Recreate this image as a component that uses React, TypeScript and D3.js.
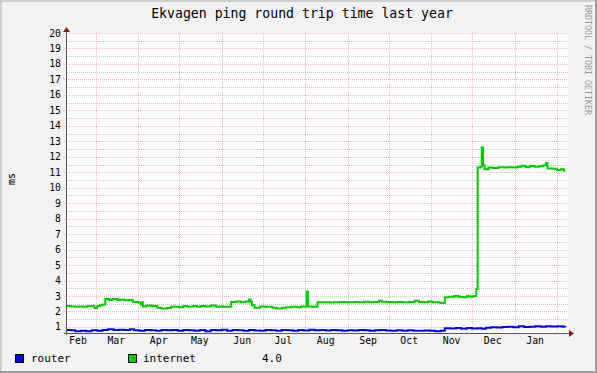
import React from 'react';
import * as d3 from 'd3';

// rrdtool-style yearly ping graph
const startDate = new Date(2010, 1, 8);
const endDate = new Date(2011, 1, 9);

const yTicks = d3.range(1, 21);
const yMinor = d3.range(1.5, 20, 1);

const internetDay = [
  0, 3, 6, 9, 12, 15, 20, 22, 24, 26, 28, 31, 33, 37, 39, 42, 45, 48, 52, 54, 55, 55.4, 58, 62, 66, 69,
  73, 76, 79, 82, 85, 88, 92, 95, 98, 101, 105, 109, 112, 114, 120, 124, 127, 130, 133, 134, 135, 137,
  141, 145, 150, 153, 157, 160, 164, 168, 171, 174, 175, 176, 179, 183, 188, 192, 195, 199, 203, 206,
  210, 213, 217, 221, 224, 228, 230, 234, 238, 241, 245, 250, 254, 257, 261, 264, 267, 271, 273, 276,
  279, 283, 286, 289, 292, 295, 297, 299, 300, 302, 303, 304, 305, 308, 311, 315, 319, 322, 326, 329,
  332, 335, 338, 342, 345, 348, 350, 351, 355, 358, 361, 363, 364,
];
const internetMs = [
  2.35, 2.33, 2.3, 2.33, 2.3, 2.35, 2.22, 2.35, 2.4, 2.45, 2.8, 2.75, 2.8, 2.75, 2.78, 2.73, 2.75, 2.62,
  2.58, 2.45, 2.6, 2.32, 2.38, 2.35, 2.25, 2.2, 2.22, 2.3, 2.3, 2.28, 2.35, 2.3, 2.35, 2.3, 2.35, 2.33,
  2.38, 2.3, 2.33, 2.3, 2.62, 2.65, 2.6, 2.65, 2.78, 2.65, 2.4, 2.25, 2.32, 2.3, 2.25, 2.2, 2.25, 2.28,
  2.3, 2.28, 2.33, 2.3, 3.3, 2.32, 2.3, 2.6, 2.6, 2.58, 2.6, 2.62, 2.6, 2.6, 2.62, 2.6, 2.63, 2.6, 2.62,
  2.7, 2.63, 2.62, 2.6, 2.62, 2.6, 2.62, 2.7, 2.62, 2.6, 2.65, 2.6, 2.58, 2.55, 2.92, 2.95, 3.0, 2.95,
  2.92, 2.98, 2.95, 3.0, 3.45, 11.3, 11.35, 12.6, 11.45, 11.2, 11.3, 11.28, 11.32, 11.3, 11.33, 11.3,
  11.35, 11.42, 11.32, 11.4, 11.35, 11.4, 11.45, 11.6, 11.25, 11.22, 11.15, 11.2, 11.1, 11.1,
];

const routerDay = [
  0, 3, 6, 10, 14, 18, 22, 26, 30, 34, 38, 42, 46, 49, 53, 57, 61, 65, 69, 73, 77, 81, 85, 89, 93, 97,
  101, 105, 109, 113, 117, 121, 125, 129, 133, 137, 141, 145, 149, 153, 157, 161, 165, 169, 173, 177,
  181, 185, 189, 193, 197, 201, 205, 209, 213, 217, 221, 225, 229, 233, 237, 241, 245, 249, 253, 257,
  261, 265, 269, 273, 276, 280, 284, 288, 292, 296, 300, 303, 306, 310, 314, 318, 322, 326, 330, 334,
  338, 342, 346, 350, 354, 358, 362, 364,
];
const routerMs = [
  0.8, 0.78, 0.72, 0.75, 0.72, 0.78, 0.75, 0.8, 0.85, 0.8, 0.82, 0.8, 0.85, 0.78, 0.75, 0.8, 0.78, 0.76,
  0.8, 0.78, 0.8, 0.76, 0.8, 0.78, 0.75, 0.8, 0.73, 0.8, 0.78, 0.82, 0.76, 0.8, 0.78, 0.75, 0.8, 0.77,
  0.75, 0.8, 0.78, 0.76, 0.8, 0.78, 0.76, 0.8, 0.77, 0.82, 0.78, 0.8, 0.77, 0.8, 0.78, 0.76, 0.79, 0.77,
  0.8, 0.78, 0.75, 0.78, 0.8, 0.77, 0.76, 0.79, 0.75, 0.78, 0.76, 0.75, 0.77, 0.75, 0.72, 0.75, 0.92,
  0.9, 0.93, 0.88, 0.93, 0.9, 0.92, 0.88, 0.95, 0.98, 0.97, 1.0, 1.02, 0.98, 1.05, 1.0, 1.02, 1.05,
  1.02, 1.05, 1.03, 1.05, 1.02, 1.0,
];

const W = 597;
const H = 373;
const left = 67;
const right = 568;
const top = 33;
const bottom = 333;
const mono = "'DejaVu Sans Mono', monospace";
const majorCol = 'rgba(222,79,79,0.38)';
const minorCol = 'rgba(143,143,143,0.5)';

const App = () => {
  const x = d3.scaleTime().domain([startDate, endDate]).range([left, right]);
  const y = d3.scaleLinear().domain([0.61, 20]).range([bottom, top]);
  const dayToDate = (d: number) => new Date(startDate.getTime() + d * 86400000);

  const line = d3
    .line<[number, number]>()
    .x(d => x(dayToDate(d[0])))
    .y(d => y(d[1]))
    .curve(d3.curveStepAfter);

  const internet = internetDay.map((d, i) => [d, internetMs[i]] as [number, number]);
  const router = routerDay.map((d, i) => [d, routerMs[i]] as [number, number]);

  const months = d3.timeMonth.range(d3.timeMonth.ceil(startDate), endDate);
  const labelMonths = d3.timeMonth
    .range(d3.timeMonth.floor(startDate), endDate)
    .map(m => new Date(m.getFullYear(), m.getMonth(), 16))
    .filter(m => m > startDate && m < endDate);
  const fmt = d3.timeFormat('%b');

  const px = (v: number) => Math.round(v) + 0.5;

  return (
    <svg width={W} height={H} style={{ position: 'absolute', left: 0, top: 0 }}>
      <rect x={0} y={0} width={W} height={H} fill="#f2f2f2" />
      {/* 3d border */}
      <rect x={0} y={0} width={W} height={2} fill="#cfcfcf" />
      <rect x={0} y={0} width={2} height={H} fill="#cfcfcf" />
      <rect x={0} y={H - 2} width={W} height={2} fill="#9e9e9e" />
      <rect x={W - 2} y={0} width={2} height={H} fill="#9e9e9e" />

      <rect x={left} y={top} width={right - left} height={bottom - top} fill="#ffffff" />

      {/* minor grid */}
      {yMinor.map(v => (
        <line key={'m' + v} x1={left} x2={right} y1={px(y(v))} y2={px(y(v))}
          stroke={minorCol} strokeDasharray="1,1" />
      ))}
      {/* major grid */}
      {yTicks.map(v => (
        <line key={'g' + v} x1={left - 3} x2={right} y1={px(y(v))} y2={px(y(v))}
          stroke={majorCol} strokeDasharray="1,1" />
      ))}
      {months.map(m => (
        <line key={'v' + m.getTime()} x1={px(x(m))} x2={px(x(m))} y1={top} y2={bottom + 2}
          stroke={majorCol} strokeDasharray="1,1" />
      ))}

      {/* series */}
      <path d={line(router) ?? ''} fill="none" stroke="#0000ff" strokeWidth={2} />
      <path d={line(internet) ?? ''} fill="none" stroke="#00cc00" strokeWidth={2} />

      {/* axes */}
      <line x1={left - 3} x2={right + 2} y1={bottom + 0.5} y2={bottom + 0.5} stroke="#555" />
      <line x1={left - 0.5} x2={left - 0.5} y1={top - 3} y2={bottom + 2} stroke="#555" />
      <path d={`M${right + 1},${bottom - 3} L${right + 6},${bottom + 0.5} L${right + 1},${bottom + 4} Z`} fill="#801f1f" />
      <path d={`M${left - 4},${top - 1} L${left - 0.5},${top - 6} L${left + 3},${top - 1} Z`} fill="#801f1f" />

      {/* tick labels */}
      {yTicks.map(v => (
        <text key={'yl' + v} x={61} y={y(v) + 3.5} textAnchor="end" fontFamily={mono} fontSize={9.8} fill="#000">
          {v}
        </text>
      ))}
      {labelMonths.map(m => (
        <text key={'xl' + m.getTime()} x={x(m)} y={344} textAnchor="middle" fontFamily={mono} fontSize={9.8} fill="#000">
          {fmt(m)}
        </text>
      ))}

      {/* titles */}
      <text x={302} y={18} textAnchor="middle" fontFamily={mono} fontSize={13.2} fill="#000">
        Ekvagen ping round trip time last year
      </text>
      <text transform="translate(15,179) rotate(-90)" textAnchor="middle" fontFamily={mono} fontSize={10} fill="#000">
        ms
      </text>
      <text transform="translate(585,5) rotate(90)" textAnchor="start" fontFamily={mono} fontSize={8.3} fill="#999">
        RRDTOOL / TOBI OETIKER
      </text>

      {/* legend */}
      <rect x={15.5} y={354.5} width={8} height={8} fill="#0000ff" stroke="#000" />
      <text x={31} y={362} fontFamily={mono} fontSize={11} fill="#000">router</text>
      <rect x={128.5} y={354.5} width={8} height={8} fill="#00cc00" stroke="#000" />
      <text x={143} y={362} fontFamily={mono} fontSize={11} fill="#000">internet</text>
      <text x={262} y={362} fontFamily={mono} fontSize={11} fill="#000">4.0</text>
    </svg>
  );
};

export default App;
